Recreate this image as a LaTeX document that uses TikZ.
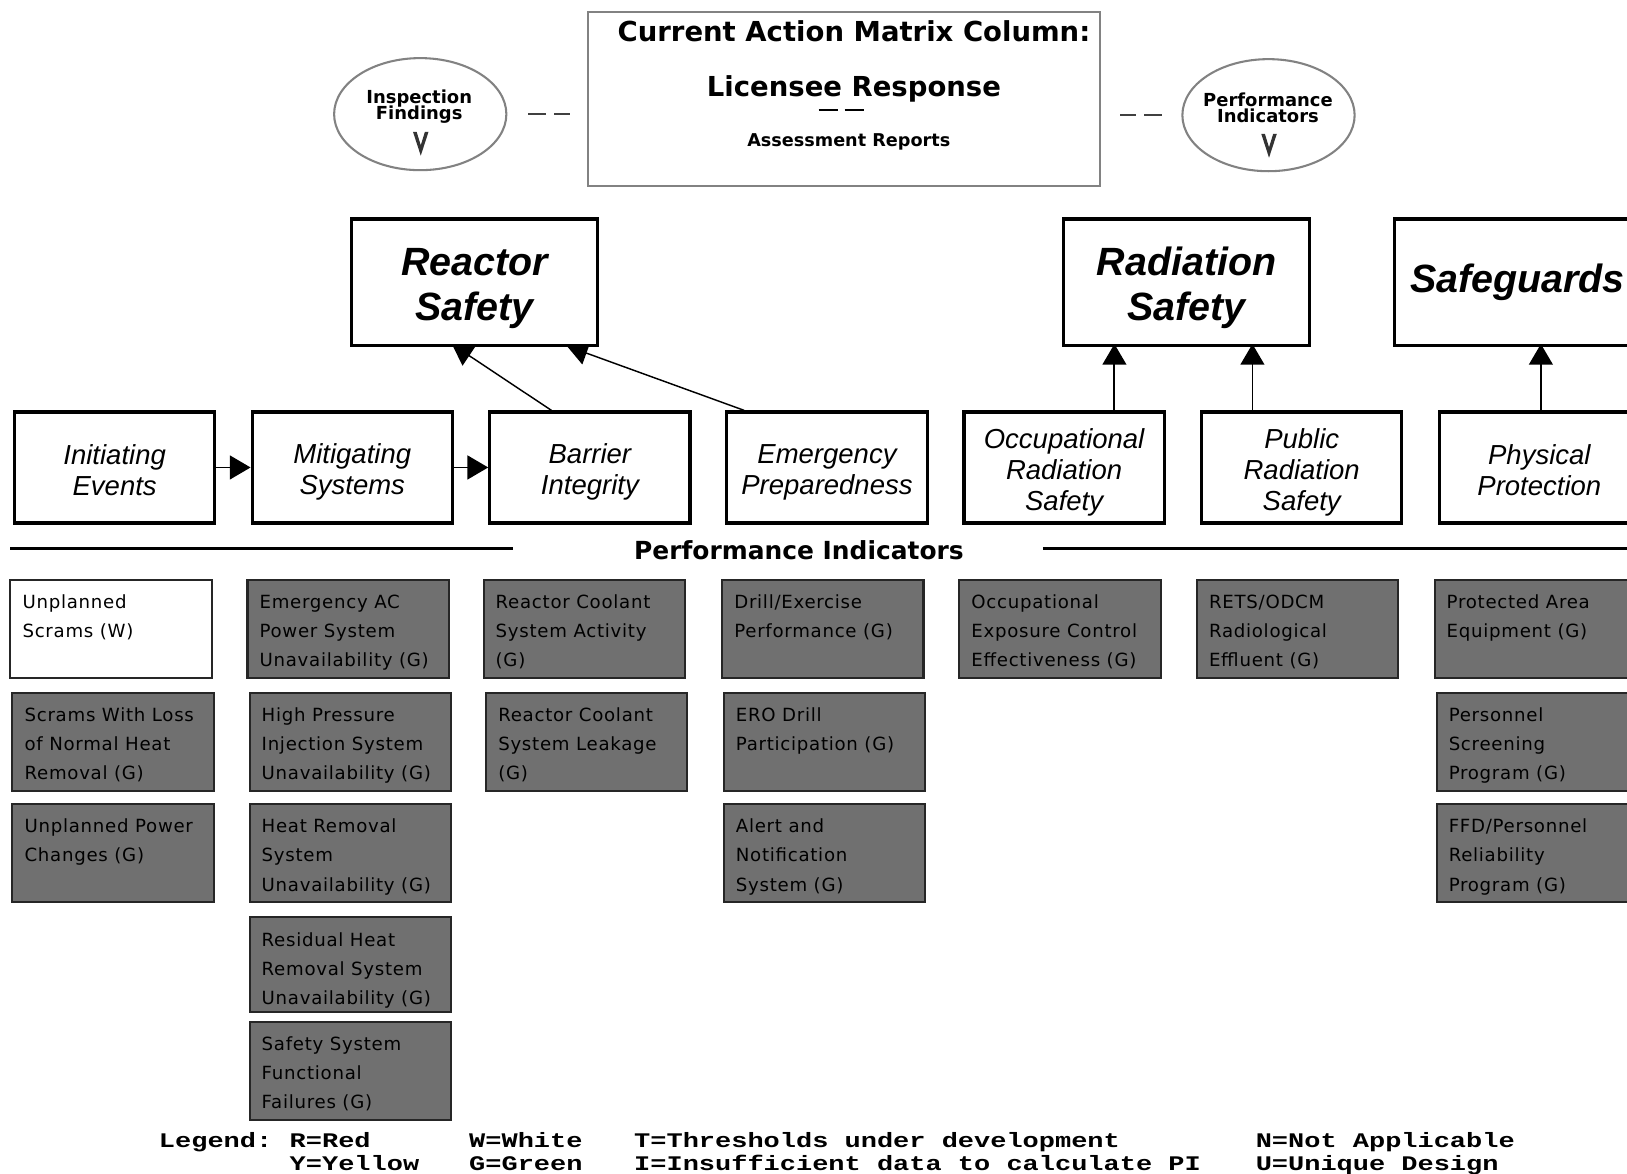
\documentclass[tikz,border=0pt]{standalone}
\usepackage{fontspec}
\usepackage{graphicx}
\usetikzlibrary{shapes.geometric,arrows.meta,calc}
\newfontfamily\djv{DejaVu Sans}
\newfontfamily\djvind[LetterSpace=4]{DejaVu Sans}
\newfontfamily\lsans{Liberation Sans}
\newfontfamily\lmono{Liberation Mono}
\definecolor{indgray}{RGB}{112,112,112}
\definecolor{edgegray}{RGB}{130,130,130}
\newcommand\tightlines{\lineskiplimit=-30pt\relax}
\newcommand\lgd[1]{\scalebox{1.3}[1]{#1}}
\newcommand\subtopstrut{\rule{0pt}{28pt}}
\newcommand\subbotstrut{\rule[-4pt]{0pt}{4pt}}
\newcommand\cattopstrut{\rule{0pt}{39pt}}
\newcommand\catbotstrut{\rule[-9pt]{0pt}{9pt}}
\pgfdeclarelayer{bg}
\pgfsetlayers{bg,main}
\tikzset{
 topbox/.style={draw=edgegray, line width=2pt, fill=white, minimum width=493pt, minimum height=167pt, inner sep=0},
 oval/.style={ellipse, draw=edgegray, line width=2pt, minimum width=166pt, minimum height=108pt, inner sep=0},
 ovaltext/.style={font={\djv\bfseries\fontsize{17.3}{15.5}\selectfont\tightlines}, align=center, inner sep=0},
 toptext/.style={anchor=base, inner sep=0, font=\djv\bfseries\fontsize{26.5}{30}\selectfont},
 catbox/.style={draw, line width=3pt, fill=white, minimum width=237pt, minimum height=122pt, align=center, inner sep=0, font=\lsans\bfseries\itshape\fontsize{38}{43}\selectfont},
 subbox/.style={draw, line width=3pt, fill=white, minimum width=193pt, minimum height=107pt, align=center, inner sep=0, font=\lsans\itshape\fontsize{26.5}{30}\selectfont},
 indbox/.style={draw=black!85, line width=2pt, fill=indgray, minimum width=194pt, minimum height=94pt, inner sep=0},
 indtext/.style={anchor=north west, inner sep=0, align=left, font=\djvind\fontsize{17.5}{28}\selectfont},
 arr/.style={line width=1.8pt, -{Triangle[length=20pt,width=23pt]}},
 thinarr/.style={line width=1.4pt, -{Triangle[length=20pt,width=23pt]}},
 dashcon/.style={line width=2.5pt, draw=black!75, dash pattern=on 17pt off 8pt},
 legend/.style={anchor=base west, inner sep=0, font=\lmono\bfseries\fontsize{20}{21}\selectfont},
 chevron/.style={fill=black!80},
}
\newcommand\ind[5]{%
 \node[indbox,#4] (#1) at (#2,#3) {};
 \node[indtext] (#1t) at ($(#1.north west)+(12.5,0)$) {\rule{0pt}{28.5pt}#5};
}
\begin{document}
\begin{tikzpicture}[x=1pt,y=-1pt]
\useasboundingbox (0,0) rectangle (1568,1130.5);
\clip (0,0) rectangle (1568,1130.5);

% top area
\node[topbox] (cam) at (813.5,95.5) {};
\node[toptext] (camt1) at (823,40.2) {Current Action Matrix Column:};
\node[toptext] (camt2) at (823,93) {Licensee Response};
\node[inner sep=0] (camsep) at (811,106) {\rule{19pt}{2pt}\hspace{6pt}\rule{19pt}{2pt}};
\node[toptext, font=\djv\bfseries\fontsize{17}{20}\selectfont] (camt3) at (818,141) {Assessment Reports};

\node[oval] (ins) at (405,110) {};
\node[ovaltext] (inst) at (404,102.5) {Inspection\\Findings};
\fill[chevron] (398,127) -- (405.5,150) -- (413,127) -- (409.5,127) -- (405.5,140) -- (401.5,127) -- cycle;
\node[oval] (perf) at (1222.5,111) {};
\node[ovaltext] (perft) at (1222,104) {Performance\\Indicators};
\fill[chevron] (1215.5,129) -- (1223,152) -- (1230.5,129) -- (1227,129) -- (1223,142) -- (1219,129) -- cycle;

\draw[dashcon, shorten <=20pt, shorten >=17pt] (ins.east) -- (ins.east -| cam.west);
\draw[dashcon, shorten <=19pt, shorten >=18pt] (perf.west) -- (perf.west -| cam.east);

% categories
\node[catbox] (rs) at (457.5,272) {\cattopstrut Reactor\\Safety\catbotstrut};
\node[catbox] (rad) at (1143.5,272) {\cattopstrut Radiation\\Safety\catbotstrut};
\node[catbox] (sg) at (1462.5,272) {Safeguards};

% cornerstones
\node[subbox] (ie) at (110.5,450.5) {\subtopstrut Initiating\\Events\subbotstrut};
\node[subbox] (ms) at (339.5,450.5) {\subtopstrut Mitigating\\Systems\subbotstrut};
\node[subbox] (bi) at (568.5,450.5) {\subtopstrut Barrier\\Integrity\subbotstrut};
\node[subbox] (ep) at (797,450.5) {\subtopstrut Emergency\\Preparedness\subbotstrut};
\node[subbox] (ors) at (1025.5,450.5) {\subtopstrut Occupational\\Radiation\\Safety\subbotstrut};
\node[subbox] (prs) at (1254.5,450.5) {\subtopstrut Public\\Radiation\\Safety\subbotstrut};
\node[subbox] (pp) at (1483.5,450.5) {\subtopstrut Physical\\Protection\subbotstrut};

\begin{pgfonlayer}{bg}
\draw[arr] (ie.east) -- (ms.west);
\draw[arr] (ms.east) -- (bi.west);
\draw[thinarr, shorten >=-5pt] ($(bi.north west)!0.311!(bi.north east)$) -- ($(rs.south west)!0.426!(rs.south east)$);
\draw[thinarr, shorten >=-3pt] ($(ep.north west)!0.093!(ep.north east)$) -- ($(rs.south west)!0.882!(rs.south east)$);
\path ($(ors.north)+(48.5,0)$) coordinate (v1);
\path ($(prs.north)+(-47.5,0)$) coordinate (v2);
\path ($(pp.north)+(1.5,0)$) coordinate (v3);
\draw[arr, shorten >=-3pt] (v1) -- (v1 |- rad.south);
\draw[arr, shorten >=-3pt] (v2) -- (v2 |- rad.south);
\draw[arr, shorten >=-3pt] (v3) -- (v3 |- sg.south);
\end{pgfonlayer}

% performance indicators header
\node[anchor=base, inner sep=0, font=\djv\bfseries\fontsize{24}{28}\selectfont] (pih) at (770,539) {Performance Indicators};
\draw[line width=3pt] (10,529) -- (494,529);
\draw[line width=3pt] (1005,529) -- (1568,529);

% indicator boxes
\ind{a1}{107}{606}{fill=white}{Unplanned\\Scrams (W)}
\ind{a2}{109}{715}{}{Scrams With Loss\\of Normal Heat\\Removal (G)}
\ind{a3}{109}{822}{}{Unplanned Power\\Changes (G)}
\ind{b1}{335.5}{606}{}{Emergency AC\\Power System\\Unavailability (G)}
\ind{b2}{337.5}{715}{}{High Pressure\\Injection System\\Unavailability (G)}
\ind{b3}{337.5}{822}{}{Heat Removal\\System\\Unavailability (G)}
\ind{b4}{337.5}{929.5}{minimum height=91pt}{Residual Heat\\Removal System\\Unavailability (G)}
\ind{b5}{337.5}{1032}{}{Safety System\\Functional\\Failures (G)}
\ind{c1}{563}{606}{}{Reactor Coolant\\System Activity\\(G)}
\ind{c2}{565.5}{715}{}{Reactor Coolant\\System Leakage\\(G)}
\ind{d1}{793}{606}{}{Drill/Exercise\\Performance (G)}
\ind{d2}{794.5}{715}{}{ERO Drill\\Participation (G)}
\ind{d3}{794.5}{822}{}{Alert and\\Notification\\System (G)}
\ind{e1}{1021.5}{606}{}{Occupational\\Exposure Control\\Effectiveness (G)}
\ind{f1}{1250.5}{606}{}{RETS/ODCM\\Radiological\\Effluent (G)}
\ind{g1}{1479.5}{606}{}{Protected Area\\Equipment (G)}
\ind{g2}{1481.5}{715}{}{Personnel\\Screening\\Program (G)}
\ind{g3}{1481.5}{822}{}{FFD/Personnel\\Reliability\\Program (G)}

% legend
\node[legend] (lg0) at (153,1106) {\lgd{Legend:}};
\node[legend] (lgr) at (279,1106) {\lgd{R=Red}};
\node[legend] (lgw) at (452,1106) {\lgd{W=White}};
\node[legend] (lgt) at (611,1106) {\lgd{T=Thresholds under development}};
\node[legend] (lgn) at (1210,1106) {\lgd{N=Not Applicable}};
\node[legend] (lgy) at (279,1127.6) {\lgd{Y=Yellow}};
\node[legend] (lgg) at (452,1127.6) {\lgd{G=Green}};
\node[legend] (lgi) at (611,1127.6) {\lgd{I=Insufficient data to calculate PI}};
\node[legend] (lgu) at (1210,1127.6) {\lgd{U=Unique Design}};
\end{tikzpicture}
\end{document}
